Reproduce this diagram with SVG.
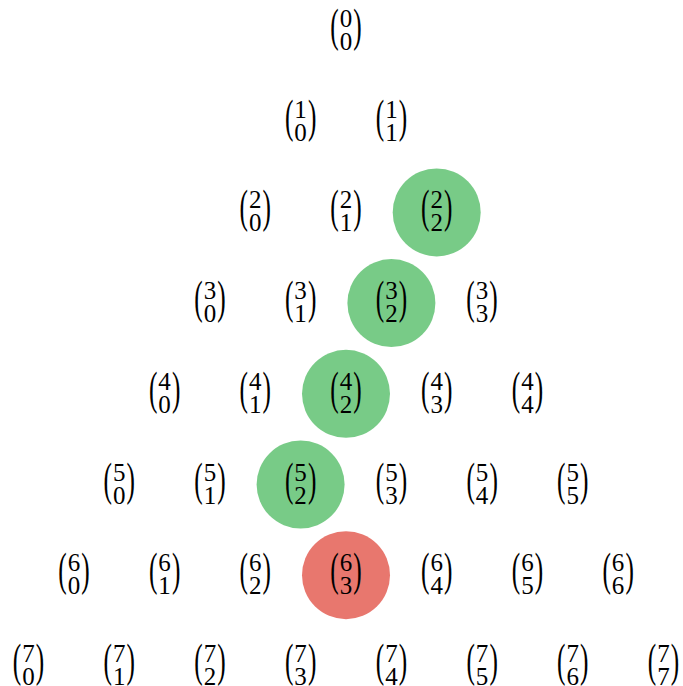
<svg xmlns="http://www.w3.org/2000/svg" width="683" height="686" viewBox="0 0 683 686">
<style>
.d{font-family:"Liberation Serif","DejaVu Serif",serif;font-size:25px;text-anchor:middle;fill:#000}
.p{font-family:"Liberation Serif","DejaVu Serif",serif;font-size:46px;text-anchor:middle;fill:#000}
.g{fill:#78cb87}
.r{fill:#e8776e}
</style>
<defs>
<g id="pp">
<text class="p" transform="translate(-11.5,10) scale(0.55,1)">(</text>
<text class="p" transform="translate(11.5,10) scale(0.55,1)">)</text>
</g>
</defs>
<rect width="683" height="686" fill="#fff"/>
<g id="highlights">
<circle class="g" cx="436.7" cy="212.4" r="44"/>
<circle class="g" cx="391.4" cy="303.1" r="44"/>
<circle class="g" cx="346" cy="393.8" r="44"/>
<circle class="g" cx="300.6" cy="484.5" r="44"/>
<circle class="r" cx="346" cy="575.2" r="44"/>
</g>
<g id="n0_0" transform="translate(346,31)"><use href="#pp"/><text class="d" y="-4">0</text><text class="d" y="19">0</text></g>
<g id="n1_0" transform="translate(300.6,121.7)"><use href="#pp"/><text class="d" y="-4">1</text><text class="d" y="19">0</text></g>
<g id="n1_1" transform="translate(391.4,121.7)"><use href="#pp"/><text class="d" y="-4">1</text><text class="d" y="19">1</text></g>
<g id="n2_0" transform="translate(255.3,212.4)"><use href="#pp"/><text class="d" y="-4">2</text><text class="d" y="19">0</text></g>
<g id="n2_1" transform="translate(346,212.4)"><use href="#pp"/><text class="d" y="-4">2</text><text class="d" y="19">1</text></g>
<g id="n2_2" transform="translate(436.7,212.4)"><use href="#pp"/><text class="d" y="-4">2</text><text class="d" y="19">2</text></g>
<g id="n3_0" transform="translate(210,303.1)"><use href="#pp"/><text class="d" y="-4">3</text><text class="d" y="19">0</text></g>
<g id="n3_1" transform="translate(300.6,303.1)"><use href="#pp"/><text class="d" y="-4">3</text><text class="d" y="19">1</text></g>
<g id="n3_2" transform="translate(391.4,303.1)"><use href="#pp"/><text class="d" y="-4">3</text><text class="d" y="19">2</text></g>
<g id="n3_3" transform="translate(482,303.1)"><use href="#pp"/><text class="d" y="-4">3</text><text class="d" y="19">3</text></g>
<g id="n4_0" transform="translate(164.6,393.8)"><use href="#pp"/><text class="d" y="-4">4</text><text class="d" y="19">0</text></g>
<g id="n4_1" transform="translate(255.3,393.8)"><use href="#pp"/><text class="d" y="-4">4</text><text class="d" y="19">1</text></g>
<g id="n4_2" transform="translate(346,393.8)"><use href="#pp"/><text class="d" y="-4">4</text><text class="d" y="19">2</text></g>
<g id="n4_3" transform="translate(436.7,393.8)"><use href="#pp"/><text class="d" y="-4">4</text><text class="d" y="19">3</text></g>
<g id="n4_4" transform="translate(527.4,393.8)"><use href="#pp"/><text class="d" y="-4">4</text><text class="d" y="19">4</text></g>
<g id="n5_0" transform="translate(119.2,484.5)"><use href="#pp"/><text class="d" y="-4">5</text><text class="d" y="19">0</text></g>
<g id="n5_1" transform="translate(209.9,484.5)"><use href="#pp"/><text class="d" y="-4">5</text><text class="d" y="19">1</text></g>
<g id="n5_2" transform="translate(300.6,484.5)"><use href="#pp"/><text class="d" y="-4">5</text><text class="d" y="19">2</text></g>
<g id="n5_3" transform="translate(391.4,484.5)"><use href="#pp"/><text class="d" y="-4">5</text><text class="d" y="19">3</text></g>
<g id="n5_4" transform="translate(482.1,484.5)"><use href="#pp"/><text class="d" y="-4">5</text><text class="d" y="19">4</text></g>
<g id="n5_5" transform="translate(572.8,484.5)"><use href="#pp"/><text class="d" y="-4">5</text><text class="d" y="19">5</text></g>
<g id="n6_0" transform="translate(73.9,575.2)"><use href="#pp"/><text class="d" y="-4">6</text><text class="d" y="19">0</text></g>
<g id="n6_1" transform="translate(164.6,575.2)"><use href="#pp"/><text class="d" y="-4">6</text><text class="d" y="19">1</text></g>
<g id="n6_2" transform="translate(255.3,575.2)"><use href="#pp"/><text class="d" y="-4">6</text><text class="d" y="19">2</text></g>
<g id="n6_3" transform="translate(346,575.2)"><use href="#pp"/><text class="d" y="-4">6</text><text class="d" y="19">3</text></g>
<g id="n6_4" transform="translate(436.7,575.2)"><use href="#pp"/><text class="d" y="-4">6</text><text class="d" y="19">4</text></g>
<g id="n6_5" transform="translate(527.4,575.2)"><use href="#pp"/><text class="d" y="-4">6</text><text class="d" y="19">5</text></g>
<g id="n6_6" transform="translate(618.1,575.2)"><use href="#pp"/><text class="d" y="-4">6</text><text class="d" y="19">6</text></g>
<g id="n7_0" transform="translate(28.5,665.9)"><use href="#pp"/><text class="d" y="-4">7</text><text class="d" y="19">0</text></g>
<g id="n7_1" transform="translate(119.2,665.9)"><use href="#pp"/><text class="d" y="-4">7</text><text class="d" y="19">1</text></g>
<g id="n7_2" transform="translate(209.9,665.9)"><use href="#pp"/><text class="d" y="-4">7</text><text class="d" y="19">2</text></g>
<g id="n7_3" transform="translate(300.6,665.9)"><use href="#pp"/><text class="d" y="-4">7</text><text class="d" y="19">3</text></g>
<g id="n7_4" transform="translate(391.4,665.9)"><use href="#pp"/><text class="d" y="-4">7</text><text class="d" y="19">4</text></g>
<g id="n7_5" transform="translate(482.1,665.9)"><use href="#pp"/><text class="d" y="-4">7</text><text class="d" y="19">5</text></g>
<g id="n7_6" transform="translate(572.8,665.9)"><use href="#pp"/><text class="d" y="-4">7</text><text class="d" y="19">6</text></g>
<g id="n7_7" transform="translate(663.5,665.9)"><use href="#pp"/><text class="d" y="-4">7</text><text class="d" y="19">7</text></g>
<g id="connectors"/>
</svg>
